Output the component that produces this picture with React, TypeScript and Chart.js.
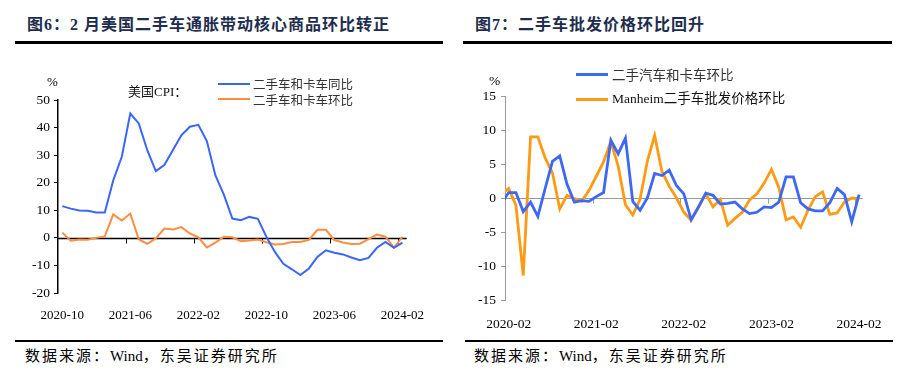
import React, { useEffect, useRef } from "react";
import { Chart, registerables } from "chart.js";
Chart.register(...registerables);

// ---------- DATA ----------
function monthRange(startY: number, startM: number, n: number): string[] {
  const out: string[] = [];
  let y = startY, m = startM;
  for (let i = 0; i < n; i++) {
    out.push(`${y}-${String(m).padStart(2, "0")}`);
    m++;
    if (m > 12) { m = 1; y++; }
  }
  return out;
}

// Left chart: 2020-10 .. 2024-02
const leftCategories = monthRange(2020, 10, 41);
const leftTickLabels = ["2020-10", "2021-06", "2022-02", "2022-10", "2023-06", "2024-02"];
const usedCarYoY = [
  11.5, 10.6, 9.9, 9.8, 9.2, 9.2, 20.9, 29.4, 45.1, 41.5, 31.8, 24.2, 26.4,
  31.8, 37.2, 40.3, 41.0, 35.1, 22.7, 15.7, 7.0, 6.4, 7.6, 6.9, 0.4, -5.1, -9.4,
  -11.4, -13.5, -11.1, -6.9, -4.5, -5.4, -6.0, -7.1, -8.1, -7.3, -3.6, -1.5, -3.6, -1.7,
];
const usedCarMoM = [
  1.9, -1.0, -0.6, -0.7, 0.0, 0.5, 8.5, 6.3, 8.8, -0.5, -2.2, -0.2, 3.4,
  3.0, 3.9, 1.6, 0.2, -3.5, -1.7, 0.4, 0.2, -1.2, -1.0, -0.6, -1.6, -2.4, -2.2,
  -1.5, -1.5, -0.7, 2.9, 2.9, -0.8, -1.7, -2.2, -2.1, -0.5, 1.2, 0.4, -3.5, 0.4,
];
const leftYTicks = [-20, -10, 0, 10, 20, 30, 40, 50];

// Right chart: 2020-01 .. 2024-02 (axis shows 2020-02 .. 2024-02)
const rightCategories = monthRange(2020, 1, 50);
const rightTickLabels = ["2020-02", "2021-02", "2022-02", "2023-02", "2024-02"];
const cpiUsedMoM = [
  -0.8,
  0.8, 0.8, -2.0, -0.6, -2.7, 1.4, 5.4, 6.2, 2.0, -0.6, -0.4, -0.5,
  0.2, 0.8, 8.5, 6.5, 8.8, -0.5, -1.8, 0.0, 3.6, 3.3, 4.1, 1.8,
  0.6, -3.2, -1.3, 0.7, 0.4, -0.9, -0.8, -0.6, -1.6, -2.3, -2.1, -1.3,
  -1.4, -0.6, 3.1, 3.1, -0.7, -1.6, -1.9, -1.9, -0.7, 1.4, 0.5, -3.5,
  0.5,
];
const manheimMoM = [
  0.6,
  1.4, -1.1, -11.4, 9.0, 9.0, 5.9, 3.7, -1.6, 0.4, -0.1, -0.5, 1.1,
  3.2, 5.3, 8.3, 4.7, -1.0, -2.5, -0.2, 5.4, 9.2, 3.9, 1.7, 0.0,
  -2.1, -3.3, -1.4, 0.6, -1.3, -0.2, -4.0, -3.0, -2.1, -0.3, 0.6, 2.2,
  4.2, 1.6, -3.2, -2.8, -4.3, -1.8, 0.2, 0.9, -2.4, -2.2, -0.6, 0.0,
  -0.1,
];
const rightYTicks = [-15, -10, -5, 0, 5, 10, 15];

// ---------- HELPERS ----------
const zeroAxisPlugin = (color: string, width: number, tickLen: number, tickIdx: number[]) => ({
  id: "zeroAxis",
  beforeDatasetsDraw(chart: any) {
    const { ctx, chartArea, scales } = chart;
    const y0 = Math.round(scales.y.getPixelForValue(0)) + 0.5;
    ctx.save();
    ctx.strokeStyle = color;
    ctx.lineWidth = width;
    ctx.beginPath();
    ctx.moveTo(chartArea.left, y0);
    ctx.lineTo(chartArea.right, y0);
    ctx.stroke();
    ctx.lineWidth = 1;
    ctx.beginPath();
    for (const t of tickIdx) {
      const x = Math.round(scales.x.getPixelForValue(t)) + 0.5;
      ctx.moveTo(x, y0);
      ctx.lineTo(x, y0 + tickLen);
    }
    ctx.stroke();
    ctx.restore();
  },
});

function useChart(ref: React.RefObject<HTMLCanvasElement>, build: () => any) {
  useEffect(() => {
    if (!ref.current) return;
    const chart = new Chart(ref.current, build());
    return () => chart.destroy();
  }, []);
}

function LeftChart() {
  const ref = useRef<HTMLCanvasElement>(null);
  useChart(ref, () => {
    const labelIdx = leftTickLabels.map((l) => leftCategories.indexOf(l));
    const boundaries = labelIdx.filter((i) => i > 0).map((i) => i - 0.5);
    return {
      type: "line",
      data: {
        datasets: [
          {
            label: "二手车和卡车同比",
            data: usedCarYoY.map((v, i) => ({ x: i, y: v })),
            borderColor: "#3a66f7",
            borderWidth: 2,
            pointRadius: 0,
            tension: 0,
            clip: 0,
          },
          {
            label: "二手车和卡车环比",
            data: usedCarMoM.map((v, i) => ({ x: i, y: v })),
            borderColor: "#ff8c40",
            borderWidth: 2,
            pointRadius: 0,
            tension: 0,
            clip: 0,
          },
        ],
      },
      options: {
        animation: false,
        responsive: false,
        maintainAspectRatio: false,
        layout: { padding: { left: 0, right: 43.3, top: 50, bottom: 0 } },
        plugins: { legend: { display: false }, tooltip: { enabled: false } },
        scales: {
          x: {
            type: "linear",
            min: -0.5,
            max: leftCategories.length - 0.5,
            afterBuildTicks: (s: any) => {
              s.ticks = labelIdx.map((v) => ({ value: v }));
            },
            afterFit: (s: any) => { s.height = 37; },
            ticks: {
              autoSkip: false,
              maxRotation: 0,
              padding: 7,
              color: "#000",
              font: { family: "'Liberation Serif', serif", size: 13 },
              callback: (v: any) => leftCategories[Math.round(v)],
            },
            grid: { display: false },
            border: { display: false },
          },
          y: {
            type: "linear",
            min: -20,
            max: 50,
            afterBuildTicks: (s: any) => {
              s.ticks = leftYTicks.map((v) => ({ value: v }));
            },
            afterFit: (s: any) => { s.width = 58; },
            ticks: {
              padding: 4,
              color: "#000",
              font: { family: "'Liberation Serif', serif", size: 13.5 },
            },
            grid: { drawOnChartArea: false, drawTicks: true, tickLength: 4, color: "#000", lineWidth: 1 },
            border: { display: true, color: "#000", width: 1.5 },
          },
        },
      },
      plugins: [zeroAxisPlugin("#000", 1.5, 5, boundaries)],
    };
  });
  return (
    <canvas
      ref={ref}
      width={450}
      height={280}
      style={{ position: "absolute", left: 0, top: 50, width: 450, height: 280 }}
    />
  );
}

function RightChart() {
  const ref = useRef<HTMLCanvasElement>(null);
  useChart(ref, () => {
    const labelIdx = rightTickLabels.map((l) => rightCategories.indexOf(l));
    const boundaries = labelIdx.filter((i) => i > 1).map((i) => i - 0.5);
    return {
      type: "line",
      data: {
        datasets: [
          {
            label: "二手汽车和卡车环比",
            data: cpiUsedMoM.map((v, i) => ({ x: i, y: v })),
            borderColor: "#3c68f5",
            borderWidth: 2.8,
            pointRadius: 0,
            tension: 0,
            clip: 0,
          },
          {
            label: "Manheim二手车批发价格环比",
            data: manheimMoM.map((v, i) => ({ x: i, y: v })),
            borderColor: "#ff9a14",
            borderWidth: 2.8,
            pointRadius: 0,
            tension: 0,
            clip: 0,
          },
        ],
      },
      options: {
        animation: false,
        responsive: false,
        maintainAspectRatio: false,
        layout: { padding: { left: 0, right: 46.3, top: 46, bottom: 0 } },
        plugins: { legend: { display: false }, tooltip: { enabled: false } },
        scales: {
          x: {
            type: "linear",
            min: 0.5,
            max: rightCategories.length - 0.5,
            afterBuildTicks: (s: any) => {
              s.ticks = labelIdx.map((v) => ({ value: v }));
            },
            afterFit: (s: any) => { s.height = 30; },
            ticks: {
              autoSkip: false,
              maxRotation: 0,
              padding: 8,
              color: "#000",
              font: { family: "'Liberation Serif', serif", size: 13.5 },
              callback: (v: any) => rightCategories[Math.round(v)],
            },
            grid: { display: false },
            border: { display: false },
          },
          y: {
            type: "linear",
            min: -15,
            max: 15,
            afterBuildTicks: (s: any) => {
              s.ticks = rightYTicks.map((v) => ({ value: v }));
            },
            afterFit: (s: any) => { s.width = 50; },
            ticks: {
              padding: 5,
              color: "#000",
              font: { family: "'Liberation Serif', serif", size: 13.5 },
            },
            grid: { drawOnChartArea: false, drawTicks: true, tickLength: 4, color: "#999", lineWidth: 1 },
            border: { display: true, color: "#999", width: 1 },
          },
        },
      },
      plugins: [zeroAxisPlugin("#999", 1, 5, boundaries)],
    };
  });
  return (
    <canvas
      ref={ref}
      width={454}
      height={280}
      style={{ position: "absolute", left: 455, top: 50, width: 454, height: 280 }}
    />
  );
}

function Txt(props: { x: number; cy: number; size: number; children: any; style?: any; lh?: number }) {
  const lh = props.lh ?? props.size * 1.4;
  return (
    <div
      style={{
        position: "absolute",
        left: props.x,
        top: props.cy - lh / 2,
        lineHeight: `${lh}px`,
        fontSize: props.size,
        whiteSpace: "nowrap",
        ...props.style,
      }}
    >
      {props.children}
    </div>
  );
}

function HLine(props: { x1: number; x2: number; y: number; h: number; color: string }) {
  return (
    <div
      style={{
        position: "absolute",
        left: props.x1,
        top: props.y - props.h / 2,
        width: props.x2 - props.x1,
        height: props.h,
        background: props.color,
      }}
    />
  );
}

const SERIF_CJK = "'Liberation Serif', 'Noto Sans CJK SC', serif";
const CJK = "'Noto Sans CJK SC', sans-serif";

function Source() {
  const cjk = { letterSpacing: "2px" };
  return (
    <>
      <span style={cjk}>数据来源：</span>
      <span>Wind</span>
      <span style={cjk}>，东吴证券研究所</span>
    </>
  );
}

export default function App() {
  const titleStyle = {
    fontFamily: SERIF_CJK,
    fontWeight: 700,
    color: "#1e2d4d",
    letterSpacing: "1px",
  };
  const srcStyle = { fontFamily: SERIF_CJK, color: "#000" };
  return (
    <div style={{ position: "absolute", left: 0, top: 0, width: 909, height: 375, background: "#fff", overflow: "hidden" }}>
      {/* titles */}
      <Txt x={27} cy={25} size={16} style={titleStyle}>图6：2 月美国二手车通胀带动核心商品环比转正</Txt>
      <Txt x={475} cy={25} size={16} style={titleStyle}>图7：二手车批发价格环比回升</Txt>
      <HLine x1={15} x2={443} y={42.7} h={2.5} color="#000" />
      <HLine x1={463} x2={892} y={42.7} h={2.5} color="#000" />

      <LeftChart />
      <RightChart />

      {/* left annotations */}
      <Txt x={47} cy={82} size={13} style={{ fontFamily: SERIF_CJK }}>%</Txt>
      <Txt x={128} cy={92} size={13} style={{ fontFamily: SERIF_CJK, color: "#111" }}>美国CPI：</Txt>
      <HLine x1={218} x2={250} y={84} h={2} color="#3a66f7" />
      <HLine x1={218} x2={250} y={99.3} h={2} color="#ff8c40" />
      <Txt x={253} cy={84} size={12.5} style={{ fontFamily: CJK, color: "#333" }}>二手车和卡车同比</Txt>
      <Txt x={253} cy={99.3} size={12.5} style={{ fontFamily: CJK, color: "#333" }}>二手车和卡车环比</Txt>

      {/* right annotations */}
      <Txt x={489} cy={81} size={13.5} style={{ fontFamily: SERIF_CJK }}>%</Txt>
      <HLine x1={576} x2={608} y={74.3} h={3} color="#3c68f5" />
      <HLine x1={576} x2={608} y={99.3} h={3} color="#ff9a14" />
      <Txt x={612} cy={74.3} size={13.5} style={{ fontFamily: CJK, color: "#333" }}>二手汽车和卡车环比</Txt>
      <Txt x={612} cy={99.3} size={13.5} style={{ fontFamily: SERIF_CJK, color: "#111" }}>Manheim二手车批发价格环比</Txt>

      {/* sources */}
      <HLine x1={15} x2={443} y={341} h={2} color="#000" />
      <HLine x1={465} x2={893} y={341} h={2} color="#000" />
      <Txt x={25} cy={356} size={15} style={srcStyle}><Source /></Txt>
      <Txt x={474} cy={356} size={15} style={srcStyle}><Source /></Txt>
    </div>
  );
}
